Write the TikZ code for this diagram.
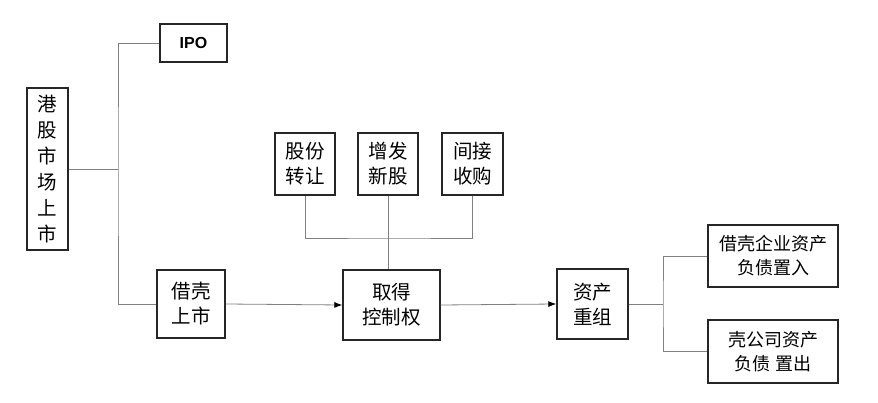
\documentclass[tikz,border=0pt]{standalone}
\usepackage{fontspec}
\setmainfont{Liberation Sans}
\newfontfamily\cjk{Noto Sans CJK SC}
\usetikzlibrary{arrows.meta}
\begin{document}
\begin{tikzpicture}[x=1pt,y=-1pt,
  bx/.style={draw=black!85,line width=1.4pt,font=\cjk\fontsize{19.5}{25}\selectfont,align=center,inner sep=0pt},
  ln/.style={draw=black!50,line width=0.8pt},
  ar/.style={ln,-{Latex[length=8pt,width=6pt,color=black]}}]
\useasboundingbox (0,0) rectangle (878,403);
\node[bx,minimum width=41,minimum height=162,font=\cjk\fontsize{19.5}{26}\selectfont] (hk) at (47.5,169) {港\\股\\市\\场\\上\\市};
\node[bx,minimum width=67,minimum height=38,font=\bfseries\fontsize{16}{19}\selectfont] (ipo) at (193.5,43) {IPO};
\node[bx,minimum width=68,minimum height=68] (jk) at (191,304) {借壳\\上市};
\node[bx,minimum width=97,minimum height=70] (qd) at (391.5,305) {取得\\控制权};
\node[bx,minimum width=60,minimum height=62] (gf) at (305,164) {股份\\转让};
\node[bx,minimum width=60,minimum height=62] (zf) at (388,164) {增发\\新股};
\node[bx,minimum width=61,minimum height=62] (jj) at (472.5,164) {间接\\收购};
\node[bx,minimum width=71,minimum height=70] (zc) at (592.5,304) {资产\\重组};
\node[bx,minimum width=130,minimum height=62,font=\cjk\fontsize{18}{24}\selectfont] (zr) at (773,256) {借壳企业资产\\负债置入};
\node[bx,minimum width=130,minimum height=63,font=\cjk\fontsize{18}{24}\selectfont] (zo) at (773,351.5) {壳公司资产\\负债 置出};
\coordinate (b1) at (118,169);
\draw[ln] (hk.east) -- (b1);
\draw[ln] (ipo.west) -| (b1) |- (jk.west);
\draw[ar] (jk.east) -- (qd.west);
\coordinate (t) at (390,238);
\draw[ln] (gf.south) |- (t) -| (jj.south);
\draw[ln] (zf.south) -- (zf.south |- qd.north);
\draw[ar] (qd.east) -- (zc.west);
\coordinate (r) at (663,304);
\draw[ln] (zc.east) -- (r);
\draw[ln] (zr.west) -| (r) |- (zo.west);
\end{tikzpicture}
\end{document}
